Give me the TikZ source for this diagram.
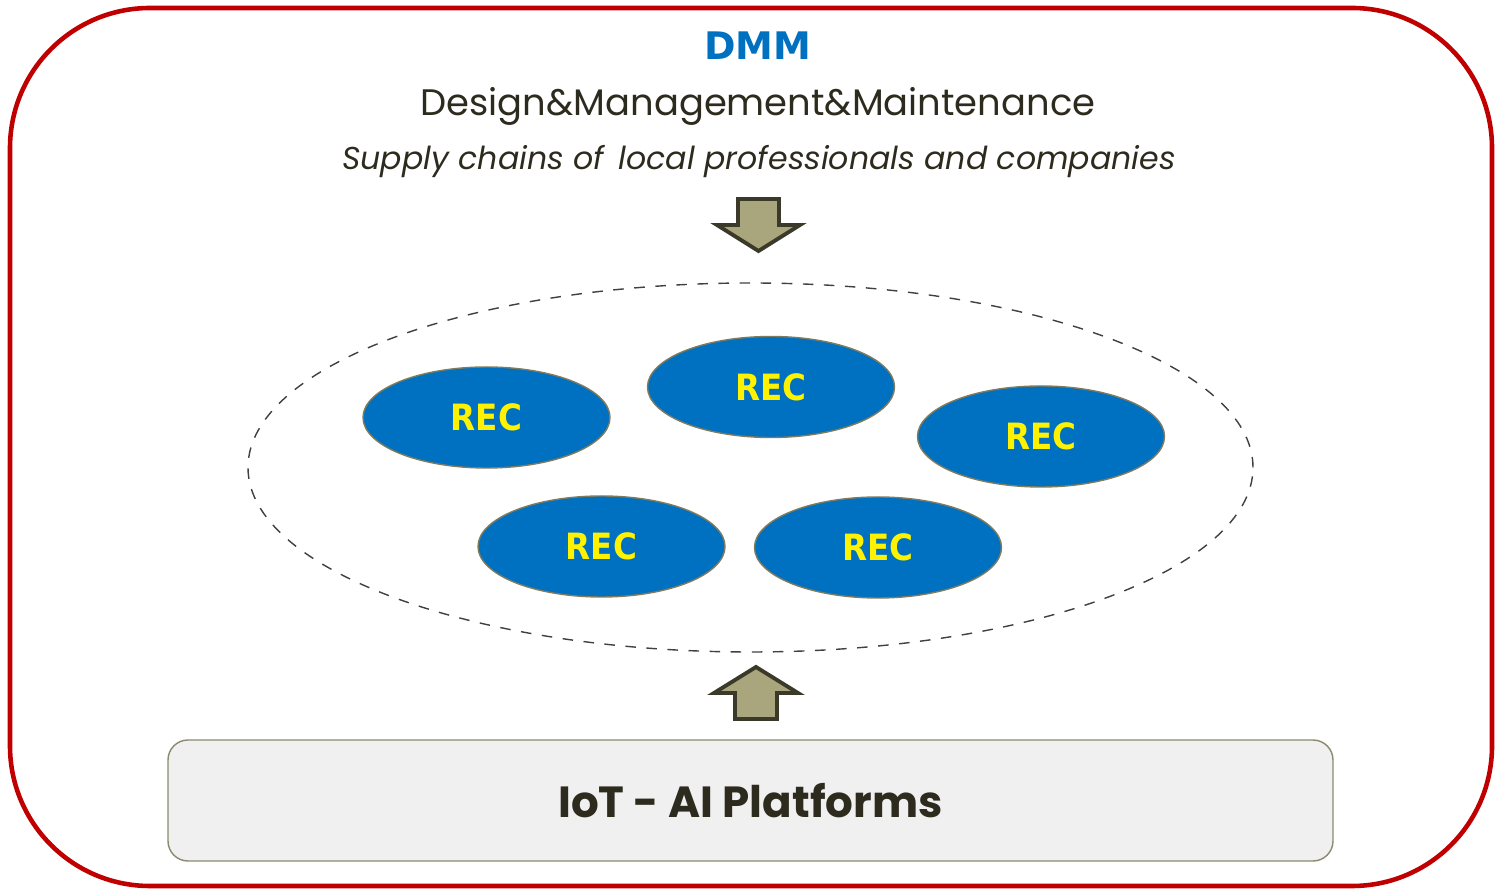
\documentclass[tikz,border=0pt]{standalone}
\usepackage{fontspec}
\setmainfont{Poppins}
\newfontfamily\recfont{DejaVu Sans Condensed}
\newfontfamily\dmmfont{DejaVu Sans}
\usepackage{tikz}
\usetikzlibrary{shapes,positioning}

\definecolor{frame}{HTML}{C00000}
\definecolor{recblue}{HTML}{0070C0}
\definecolor{recedge}{HTML}{7F7B5E}
\definecolor{olive}{HTML}{A9A57C}
\definecolor{olivedark}{HTML}{3B3A2A}
\definecolor{ink}{HTML}{2D2A1E}
\definecolor{boxfill}{HTML}{F0F0F0}
\definecolor{boxedge}{HTML}{8C8A6E}

\begin{document}
\begin{tikzpicture}[x=1cm,y=1cm,semithick]
  \tikzstyle{every rec}=[ellipse,fill=recblue,draw=recedge,thin,
                         minimum width=2.47cm,minimum height=1.01cm,
                         text=yellow,font=\recfont\bfseries\fontsize{10.3}{12}\selectfont]
  \tikzstyle{blockarrow}=[fill=olive,draw=olivedark,line width=1.1pt,line join=miter]

  \useasboundingbox (0,0) rectangle (14.98,-8.93);
  \draw[frame,line width=1.3pt,rounded corners=1.4cm] (0.10,-0.08) rectangle (14.92,-8.86);

  \node[text=recblue,font=\dmmfont\bfseries\fontsize{10.8}{12}\selectfont] (DMM) at (7.58,-0.46) {DMM};
  \node[text=ink,font=\fontsize{10.5}{12}\selectfont] (Title)  at (7.58,-1.06) {Design\&Management\&Maintenance};
  \node[text=ink,font=\itshape\fontsize{9.0}{10}\selectfont] (Chains) at (7.59,-1.62) {Supply chains of\, local professionals and companies};

  \draw[blockarrow] (7.38,-1.99) -- (7.79,-1.99) -- (7.79,-2.25) -- (8.00,-2.25)
                    -- (7.585,-2.51) -- (7.17,-2.25) -- (7.38,-2.25) -- cycle;

  \node[ellipse,draw=black!75,dashed,thin,minimum width=10.05cm,minimum height=3.69cm] (Cluster) at (7.505,-4.675) {};

  \node[every rec] (REC1) at (4.865,-4.175) {REC};
  \node[every rec] (REC2) at (7.71,-3.87)   {REC};
  \node[every rec] (REC3) at (10.41,-4.365) {REC};
  \node[every rec] (REC4) at (6.015,-5.465) {REC};
  \node[every rec] (REC5) at (8.78,-5.475)  {REC};

  \draw[blockarrow] (7.35,-7.19) -- (7.77,-7.19) -- (7.77,-6.93) -- (7.98,-6.93)
                    -- (7.56,-6.67) -- (7.14,-6.93) -- (7.35,-6.93) -- cycle;

  \node[rectangle,rounded corners=0.2cm,fill=boxfill,draw=boxedge,thin,
        minimum width=11.65cm,minimum height=1.21cm,text=ink,
        font=\bfseries\fontsize{12.4}{14}\selectfont] (Platform) at (7.505,-8.005) {IoT - AI Platforms};
\end{tikzpicture}
\end{document}
